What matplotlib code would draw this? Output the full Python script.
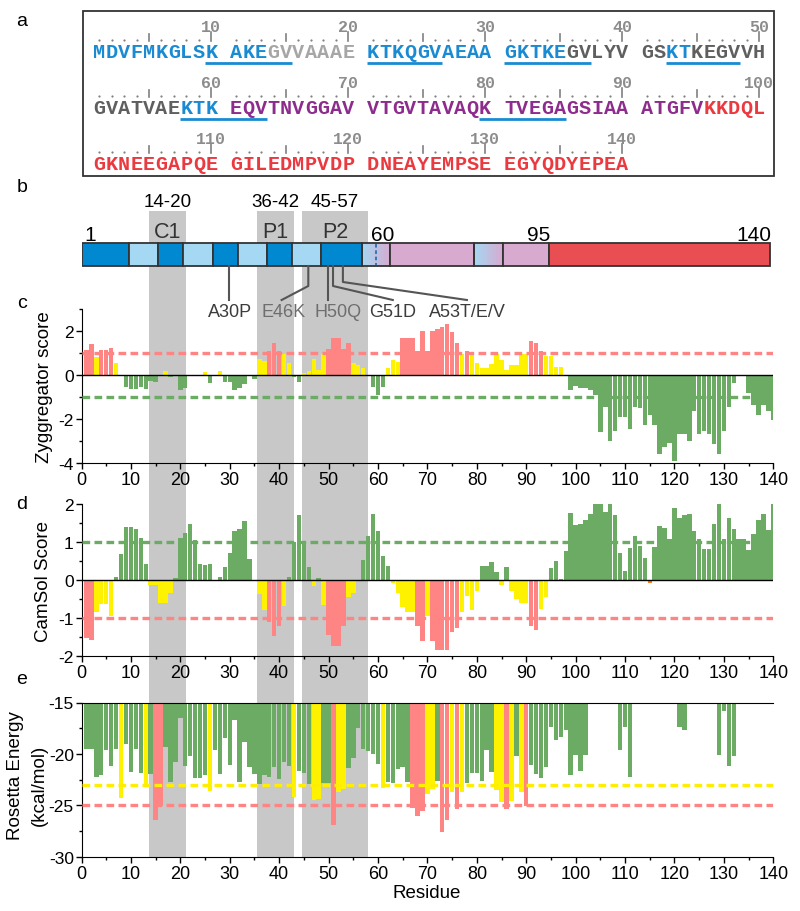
import numpy as np
import matplotlib
matplotlib.use('Agg')
import matplotlib.pyplot as plt
from matplotlib.patches import Rectangle
from matplotlib.colors import LinearSegmentedColormap

plt.rcParams['font.family'] = ['Liberation Sans', 'DejaVu Sans']
plt.rcParams['axes.unicode_minus'] = False

# ---- data ----
sequence = ("MDVFMKGLSKAKEGVVAAAEKTKQGVAEAAGKTKEGVLYVGSKTKEGVVH"
            "GVATVAEKTKEQVTNVGGAVVTGVTAVAQKTVEGAGSIAAATGFVKKDQL"
            "GKNEEGAPQEGILEDMPVDPDNEAYEMPSEEGYQDYEPEA")
# residue ranges and their text colour in panel a
seq_runs = [(1, 13, 'blue'), (14, 20, 'lgray'), (21, 35, 'blue'), (36, 42, 'dgray'),
            (43, 44, 'blue'), (45, 57, 'dgray'), (58, 60, 'blue'), (61, 95, 'purple'),
            (96, 140, 'red')]
repeat_spans = [(10, 15), (21, 26), (31, 37), (43, 48), (58, 63), (80, 85)]

region_names = ['C1', 'P1', 'P2']
region_ranges = ['14-20', '36-42', '45-57']
region_spans = [(13.7, 21.1), (35.5, 43.0), (44.6, 58.0)]

domain_edges = [0.1, 9.7, 15.5, 20.5, 26.6, 31.6, 37.5, 42.7, 48.5, 56.7, 62.4, 79.4, 85.2, 94.6, 139.4]
domain_kind = ['dark', 'light', 'dark', 'light', 'dark', 'light', 'dark', 'light', 'dark',
               'grad', 'pink', 'grad', 'pink', 'red']

mutations = ['A30P', 'E46K', 'H50Q', 'G51D', 'A53T/E/V']
mutation_site = [30, 46, 50, 51, 53]

residues = np.arange(1, 141)

zyggregator = [
    1.13, 1.40, 0.80, 1.13, 1.13, 1.24, 0.53, 0.00, -0.55, -0.65,
    -0.65, -0.55, -0.65, -0.25, -0.30, 0.00, 0.18, -0.10, 0.00, -0.70,
    -0.60, -0.05, 0.00, 0.00, 0.12, -0.35, 0.00, 0.18, -0.30, -0.30,
    -0.70, -0.60, -0.40, 0.00, -0.20, 0.75, 0.65, 1.10, 1.45, 1.10,
    0.95, 0.55, -0.10, -0.30, 0.08, 0.20, 0.75, 0.25, 0.97, 1.20,
    1.70, 1.70, 1.20, 1.45, 0.55, 0.45, 0.30, 0.00, -0.55, -0.90,
    -0.55, 0.30, 0.70, 0.60, 1.70, 1.70, 1.70, 1.10, 2.00, 1.10,
    2.00, 2.10, 2.20, 2.30, 1.95, 1.45, 0.95, 1.10, 0.95, 0.55,
    0.30, 0.30, 0.50, 0.95, 0.70, 0.25, 0.45, 0.45, 0.95, 0.95,
    1.55, 1.45, 1.10, 0.85, 0.85, 0.35, 0.35, 0.00, -0.70, -0.50,
    -0.60, -0.60, -0.70, -0.90, -2.60, -1.45, -3.00, -2.55, -1.90, -1.90,
    -2.45, -1.45, -1.50, -2.25, -1.80, -2.25, -3.60, -3.25, -3.10, -3.90,
    -2.70, -2.70, -3.00, -1.65, -2.70, -2.55, -2.70, -3.15, -3.60, -2.55,
    -1.45, -0.35, 0.00, 0.00, -0.80, -1.35, -1.80, -1.35, -1.65, -2.05]

camsol = [
    -1.52, -1.57, -0.85, -0.62, -0.62, -0.95, 0.08, 0.68, 1.40, 1.40,
    1.35, 1.10, 0.43, -0.12, -0.14, -0.60, -0.60, -0.33, 0.06, 1.10,
    1.25, 1.47, 1.05, 0.43, 0.40, 0.43, 0.00, 0.09, 0.34, 0.72,
    1.28, 1.33, 1.55, 0.54, 0.00, -0.38, -0.80, -1.10, -1.47, -1.20,
    -0.68, 0.09, 1.00, 1.72, 1.00, 0.34, -0.17, 0.06, -0.65, -1.45,
    -1.73, -1.73, -1.20, -0.46, -0.33, 0.00, 0.52, 1.15, 1.75, 1.30,
    0.63, 0.37, -0.07, -0.33, -0.72, -0.85, -0.85, -1.20, -1.60, -0.94,
    -1.60, -1.85, -1.85, -1.85, -1.37, -1.25, -0.85, -0.42, -0.80, -0.29,
    0.37, 0.37, 0.47, 0.20, -0.13, 0.35, -0.29, -0.49, -0.60, -0.60,
    -1.20, -1.32, -0.77, -0.45, 0.32, 0.50, 0.03, 0.76, 1.76, 1.46,
    1.48, 1.59, 1.74, 2.00, 2.00, 1.80, 2.00, 1.72, 0.70, 0.24,
    0.85, 1.17, 0.89, 0.58, -0.08, 0.87, 1.43, 1.37, 1.08, 1.90,
    1.63, 1.72, 1.75, 1.28, 1.07, 0.82, 0.82, 1.48, 2.00, 1.07,
    1.63, 1.35, 1.09, 1.09, 0.79, 1.20, 1.57, 1.75, 1.31, 2.00]
camsol_flagged = [115]

rosetta = [
    -19.5, -19.5, -22.2, -22.1, -19.6, -21.2, -19.5, -24.3, -19.0, -21.8,
    -19.5, -21.9, -23.1, -22.0, -26.4, -25.1, -19.3, -22.7, -20.8, -16.5,
    -21.2, -20.2, -22.3, -22.3, -22.1, -23.6, -19.6, -22.0, -18.5, -21.1,
    -16.7, -22.7, -18.8, -21.3, -22.0, -22.9, -22.1, -22.2, -21.3, -22.4,
    -20.8, -21.2, -24.2, -21.7, -21.9, -22.9, -24.5, -24.4, -22.8, -22.8,
    -26.9, -23.7, -23.4, -21.4, -20.4, -17.5, -19.5, -19.7, -20.0, -21.0,
    -23.3, -22.7, -22.8, -21.5, -21.3, -22.7, -25.3, -26.0, -25.6, -23.9,
    -23.4, -22.6, -27.6, -26.4, -23.7, -25.4, -23.7, -22.8, -21.9, -21.9,
    -22.6, -19.6, -21.8, -23.5, -24.7, -25.4, -24.6, -20.2, -23.7, -25.1,
    -21.1, -22.0, -22.3, -21.3, -17.4, -18.6, -18.4, -17.7, -22.1, -20.1,
    -21.7, -20.1, -15.0, -15.0, -15.0, -15.0, -15.0, -15.0, -19.6, -17.4,
    -22.2, -15.0, -15.0, -15.0, -15.0, -15.0, -15.0, -15.0, -15.0, -15.0,
    -17.4, -17.7, -15.0, -15.0, -15.0, -15.0, -15.0, -15.0, -20.1, -15.8,
    -21.2, -20.2, -15.0, -15.0, -15.0, -15.0, -15.0, -15.0, -15.0, -15.0]

# ---- colours ----
RED = '#FF8585'
YEL = '#FFF200'
GRN = '#6CAB64'
ORG = '#FF7F0E'
seq_colors = {'blue': '#1A8BD2', 'lgray': '#A6A6A6', 'dgray': '#5F5F5F',
              'purple': '#8E2C8E', 'red': '#EA3A40'}
dom_colors = {'dark': '#0088D1', 'light': '#A5D8F3', 'pink': '#D8AACF', 'red': '#E84E52'}

W, H = 800, 912
fig = plt.figure(figsize=(W / 100, H / 100), dpi=100)
X0, X1 = 81.5, 773.3


def px_axes(z):
    ax = fig.add_axes([0, 0, 1, 1], zorder=z)
    ax.set_xlim(0, W)
    ax.set_ylim(H, 0)
    ax.axis('off')
    return ax


def res_axes(top, bottom, z):
    ax = fig.add_axes([X0 / W, 1 - bottom / H, (X1 - X0) / W, (bottom - top) / H], zorder=z)
    ax.set_facecolor('none')
    return ax


# gray bands running through panels b-e
ax_bg = res_axes(0, H, 0)
ax_bg.set_xlim(0, 140)
ax_bg.set_ylim(H, 0)
ax_bg.axis('off')
for s, e in region_spans:
    ax_bg.add_patch(Rectangle((s, 212), e - s, 857.7 - 212, color='#C8C8C8', lw=0))

# ---- panel a: sequence ----
ax_a = px_axes(2)
ax_a.add_patch(Rectangle((83, 12), 691, 165, fill=False, ec='#333333', lw=1.3))
pitch, xs = 12.45, 93
char_color = {}
for s, e, c in seq_runs:
    for r in range(s, e + 1):
        char_color[r] = seq_colors[c]


def char_pos(res):
    row, k = divmod(res - 1, 50)
    block, c = divmod(k, 10)
    return xs + (block * 11 + c) * pitch, row


for i, aa in enumerate(sequence):
    res = i + 1
    xl, row = char_pos(res)
    xc = xl + pitch / 2
    ax_a.text(xc, 58.5 + 56 * row, aa, color=char_color[res], family='Liberation Mono',
              weight='bold', fontsize=14.5, ha='center', va='baseline')
    pos = (res - 1) % 10
    yd = 42 + 56 * row
    if pos == 4:
        ax_a.plot([xc, xc], [yd - 7, yd], color='#808080', lw=1.2)
    elif pos == 9:
        ax_a.plot([xc, xc], [yd - 9, yd], color='#808080', lw=1.2)
        ax_a.text(xc, 31.5 + 56 * row, str(res), color='#8C8C8C', family='Liberation Mono',
                  weight='bold', fontsize=12, ha='center', va='baseline')
    else:
        ax_a.plot(xc, yd - 1, 'o', color='#808080', ms=1.6, mec='none')

for s, e in repeat_spans:
    xl, row = char_pos(s)
    xr, _ = char_pos(e)
    ax_a.plot([xl, xr + pitch], [64 + 56 * row] * 2, color='#1A8BD2', lw=2.0,
              solid_capstyle='butt')

# ---- panel b: domain bar ----
ax_b = res_axes(190, 330, 2)
ax_b.set_xlim(0, 140)
ax_b.set_ylim(330, 190)
ax_b.axis('off')
yb0, yb1 = 244, 267
grad = LinearSegmentedColormap.from_list('grad', [dom_colors['light'], dom_colors['pink']])
for (s, e), kind in zip(zip(domain_edges[:-1], domain_edges[1:]), domain_kind):
    if kind == 'grad':
        ax_b.imshow(np.linspace(0, 1, 64)[None, :], cmap=grad, aspect='auto',
                    extent=(s, e, yb1, yb0), zorder=1)
        ax_b.add_patch(Rectangle((s, yb0), e - s, yb1 - yb0, fill=False, ec='#333333', lw=1.3, zorder=2))
    else:
        ax_b.add_patch(Rectangle((s, yb0), e - s, yb1 - yb0, fc=dom_colors[kind],
                                 ec='#333333', lw=1.3, zorder=2))
ax_b.plot([59.6, 59.6], [yb0 + 1, yb1 - 1], color='#2C6FAF', lw=1.3, ls=(0, (2, 1.5)), zorder=3)
ax_b.set_xlim(0, 140)
ax_b.set_ylim(330, 190)

ax_b.text(0.6, 241, '1', fontsize=15, ha='left', va='baseline')
ax_b.text(61, 241, '60', fontsize=15, ha='center', va='baseline')
ax_b.text(94.8, 241, '95', fontsize=15, ha='right', va='baseline')
ax_b.text(139.6, 241, '140', fontsize=15, ha='right', va='baseline')

for (s, e), name, rng in zip(region_spans, region_names, region_ranges):
    ax_b.text((s + e) / 2, 207, rng, fontsize=13.5, ha='center', va='baseline')
    ax_b.text((s + e) / 2, 238, name, fontsize=15.5, ha='center', va='baseline', color='#333333')

mut_label_x = [30.1, 40.8, 51.9, 63.0, 78.0]
mut_bend = [None, 287, None, 287, 283]
mut_color = ['#3C3C3C', '#6E6E6E', '#6E6E6E', '#3C3C3C', '#3C3C3C']
for site, name, lx, bend, col in zip(mutation_site, mutations, mut_label_x, mut_bend, mut_color):
    x = site - 0.1
    if bend is None:
        ax_b.plot([x, x], [yb1, 301], color='#555555', lw=1.5, zorder=3)
    else:
        end_x = lx if name != 'E46K' else lx - 0.3
        ax_b.plot([x, x, end_x], [yb1, bend, 301], color='#555555', lw=1.5, zorder=3)
    ax_b.text(lx, 317, name, fontsize=13, ha='center', va='baseline', color=col)

# ---- panels c, d, e ----
ax_c = res_axes(310, 464, 1)
ax_d = res_axes(505, 657, 1)
ax_e = res_axes(703.5, 857.7, 1)

zyg = np.array(zyggregator)
cols_c = [RED if v >= 1 else (YEL if v > 0 else GRN) for v in zyg]
ax_c.bar(residues, zyg, width=0.9, color=cols_c, lw=0, zorder=2)
ax_c.set_ylim(-4, 3)

cam = np.array(camsol)
cols_d = []
for r, v in zip(residues, cam):
    if r in camsol_flagged:
        cols_d.append(ORG)
    else:
        cols_d.append(GRN if v > 0 else (YEL if v > -1 else RED))
ax_d.bar(residues, cam, width=0.9, color=cols_d, lw=0, zorder=2)
ax_d.set_ylim(-2, 2)

ros = np.array(rosetta)
cols_e = [RED if v < -25 else (YEL if v < -23 else GRN) for v in ros]
ax_e.bar(residues, ros + 15, bottom=-15, width=0.9, color=cols_e, lw=0, zorder=2)
ax_e.set_ylim(-30, -15)

dash = (0, (2.3, 1.3))
ax_c.axhline(1, color=RED, lw=2.4, ls=dash, zorder=3)
ax_c.axhline(-1, color=GRN, lw=2.4, ls=dash, zorder=3)
ax_d.axhline(1, color=GRN, lw=2.4, ls=dash, zorder=3)
ax_d.axhline(-1, color=RED, lw=2.4, ls=dash, zorder=3)
ax_e.axhline(-23, color='#FFEE00', lw=2.4, ls=dash, zorder=3)
ax_e.axhline(-25, color=RED, lw=2.4, ls=dash, zorder=3)
ax_c.axhline(0, color='black', lw=1, zorder=4)
ax_d.axhline(0, color='black', lw=1, zorder=4)

for ax in (ax_c, ax_d, ax_e):
    ax.set_xlim(0, 140)
    ax.set_xticks(np.arange(0, 141, 10))
    ax.set_xticks(np.arange(5, 141, 10), minor=True)
    for sp in ('top', 'right'):
        ax.spines[sp].set_visible(False)
    ax.tick_params(which='major', length=4, width=1, labelsize=13, pad=2)
    ax.tick_params(axis='y', which='major', labelsize=12.5, pad=1.5)
    ax.tick_params(which='minor', length=2.5, width=1)

ax_c.set_yticks([-4, -2, 0, 2])
ax_c.set_yticks([-3, -1, 1, 3], minor=True)
ax_d.set_yticks([-2, -1, 0, 1, 2])
ax_d.set_yticks([-1.5, -0.5, 0.5, 1.5], minor=True)
ax_e.set_yticks([-30, -25, -20, -15])
ax_e.set_yticks([-27.5, -22.5, -17.5], minor=True)
ax_e.spines['top'].set_visible(True)


def ftext(x, y, s, **kw):
    fig.text(x / W, 1 - y / H, s, **kw)


ftext(45, 387, 'Zyggregator score', rotation=90, ha='center', va='center', fontsize=13.5)
ftext(44, 581, 'CamSol Score', rotation=90, ha='center', va='center', fontsize=13.5)
ftext(16, 776, 'Rosetta Energy', rotation=90, ha='center', va='center', fontsize=13.5)
ftext(39, 785, '(kcal/mol)', rotation=90, ha='center', va='center', fontsize=13.5)
ftext(427, 894, 'Residue', ha='center', va='center', fontsize=13.5)

for lab, y in zip('abcde', [22, 188, 303, 505, 680]):
    ftext(22, y, lab, ha='center', va='center', fontsize=14)

fig.savefig('out.png', dpi=100)
